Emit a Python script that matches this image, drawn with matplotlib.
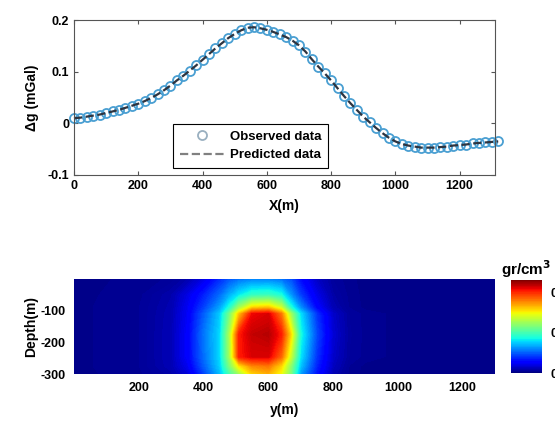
import numpy as np
import matplotlib
matplotlib.use('Agg')
import matplotlib.pyplot as plt

plt.rcParams['font.family'] = ['Liberation Sans', 'DejaVu Sans']
plt.rcParams['font.weight'] = 'bold'
plt.rcParams['axes.unicode_minus'] = False

# Gravity profile
x_obs = list(range(0, 1321, 20))
g_obs = [0.010, 0.011, 0.013, 0.015, 0.017, 0.020, 0.023, 0.026, 0.030,
         0.034, 0.038, 0.043, 0.049, 0.056, 0.064, 0.073, 0.083, 0.092,
         0.102, 0.112, 0.123, 0.134, 0.145, 0.155, 0.165, 0.173, 0.180,
         0.185, 0.186, 0.184, 0.181, 0.177, 0.172, 0.167, 0.160, 0.151,
         0.139, 0.124, 0.110, 0.097, 0.083, 0.068, 0.053, 0.039, 0.026,
         0.013, 0.002, -0.009, -0.019, -0.028, -0.035, -0.040, -0.043,
         -0.045, -0.047, -0.047, -0.047, -0.046, -0.045, -0.043, -0.042,
         -0.041, -0.039, -0.038, -0.037, -0.036, -0.035]
g_pred = g_obs

# Density model nodes (gr/cm^3)
y_nodes = [0, 200, 300, 350, 400, 450, 480, 510, 550, 600, 640, 670, 700,
           750, 800, 850, 900, 1000, 1300]
depth_nodes = [0, -50, -90, -110, -175, -245, -275, -300]
rho = [
    [0.005, 0.007, 0.010, 0.018, 0.040, 0.075, 0.095, 0.108, 0.115, 0.115,
     0.108, 0.092, 0.060, 0.028, 0.012, 0.007, 0.005, 0.005, 0.005],
    [0.005, 0.008, 0.018, 0.040, 0.070, 0.105, 0.135, 0.162, 0.188, 0.192,
     0.175, 0.125, 0.085, 0.042, 0.016, 0.008, 0.005, 0.005, 0.005],
    [0.005, 0.009, 0.020, 0.046, 0.085, 0.130, 0.178, 0.250, 0.313, 0.322,
     0.276, 0.180, 0.122, 0.056, 0.021, 0.009, 0.005, 0.005, 0.005],
    [0.005, 0.009, 0.021, 0.048, 0.098, 0.148, 0.225, 0.322, 0.414, 0.423,
     0.359, 0.250, 0.158, 0.080, 0.030, 0.012, 0.008, 0.005, 0.005],
    [0.005, 0.009, 0.022, 0.052, 0.110, 0.155, 0.255, 0.405, 0.432, 0.437,
     0.405, 0.310, 0.175, 0.090, 0.034, 0.013, 0.008, 0.005, 0.005],
    [0.005, 0.009, 0.022, 0.052, 0.106, 0.155, 0.250, 0.405, 0.423, 0.423,
     0.368, 0.272, 0.160, 0.080, 0.030, 0.012, 0.008, 0.005, 0.005],
    [0.005, 0.009, 0.021, 0.044, 0.098, 0.150, 0.228, 0.304, 0.350, 0.359,
     0.313, 0.236, 0.145, 0.072, 0.026, 0.009, 0.005, 0.005, 0.005],
    [0.005, 0.008, 0.017, 0.035, 0.085, 0.142, 0.200, 0.248, 0.313, 0.331,
     0.294, 0.228, 0.128, 0.064, 0.021, 0.008, 0.005, 0.005, 0.005],
]
cbar_ticks = [0, 0.2, 0.4]


def main():
    fig = plt.figure(figsize=(5.55, 4.23), dpi=100)

    # Top: observed vs predicted anomaly
    ax1 = fig.add_axes([0.1333, 0.5863, 0.7586, 0.3664])
    ax1.plot(x_obs, g_obs, 'o', ms=6.5, mfc='none', mec='#4a9fd2', mew=1.3,
             label='Observed data', clip_on=False)
    ax1.plot(x_obs, g_pred, '--', color='#2e3440', lw=1.6,
             label='Predicted data', clip_on=False)
    ax1.set_xlim(0, 1310)
    ax1.set_ylim(-0.1, 0.2)
    ax1.set_xticks([0, 200, 400, 600, 800, 1000, 1200])
    ax1.set_yticks([-0.1, 0, 0.1, 0.2])
    ax1.set_yticklabels(['-0.1', '0', '0.1', '0.2'])
    ax1.tick_params(top=True, right=True)
    for s in ax1.spines.values():
        s.set_color('#555555')
        s.set_linewidth(0.8)
    ax1.tick_params(direction='in', length=3, labelsize=9, color='#555555')
    ax1.set_xlabel('X(m)', fontsize=10, fontweight='bold', labelpad=5)
    ax1.set_ylabel('\u0394g (mGal)', fontsize=10, fontweight='bold', labelpad=6)
    leg = ax1.legend(loc='lower left', bbox_to_anchor=(0.235, 0.045),
                     fontsize=9.5, fancybox=False, edgecolor='black',
                     framealpha=1, borderpad=0.5, handlelength=3.4,
                     labelspacing=0.5, handletextpad=0.4, borderaxespad=0)
    leg.get_frame().set_linewidth(0.8)
    leg.legend_handles[0].set_markeredgecolor('#9ab0c0')
    leg.legend_handles[1].set_color('#808080')

    # Bottom: density model
    ax2 = fig.add_axes([0.1333, 0.1158, 0.7586, 0.2246])
    levels = np.linspace(0, 0.46, 150)
    cf = ax2.contourf(y_nodes, depth_nodes, np.array(rho), levels=levels,
                      cmap='jet', vmin=0, vmax=0.46)
    ax2.set_xlim(0, 1300)
    ax2.set_ylim(-300, 0)
    ax2.set_xticks([200, 400, 600, 800, 1000, 1200])
    ax2.set_yticks([-100, -200, -300])
    for s in ax2.spines.values():
        s.set_visible(False)
    ax2.tick_params(length=0, labelsize=9, pad=6)
    ax2.set_xlabel('y(m)', fontsize=10, fontweight='bold', labelpad=6)
    ax2.set_ylabel('Depth(m)', fontsize=10, fontweight='bold', labelpad=2)

    cax = fig.add_axes([0.9207, 0.1182, 0.0559, 0.2199])
    cb = fig.colorbar(cf, cax=cax, ticks=cbar_ticks)
    cb.outline.set_visible(False)
    cax.set_ylim(0, 0.46)
    cax.tick_params(length=0, labelsize=9, pad=6)
    cax.set_title('gr/cm$^\\mathbf{3}$', fontsize=11, fontweight='bold',
                  pad=3)

    fig.savefig('out.png', dpi=100)
    plt.close(fig)


if __name__ == "__main__":
    main()
